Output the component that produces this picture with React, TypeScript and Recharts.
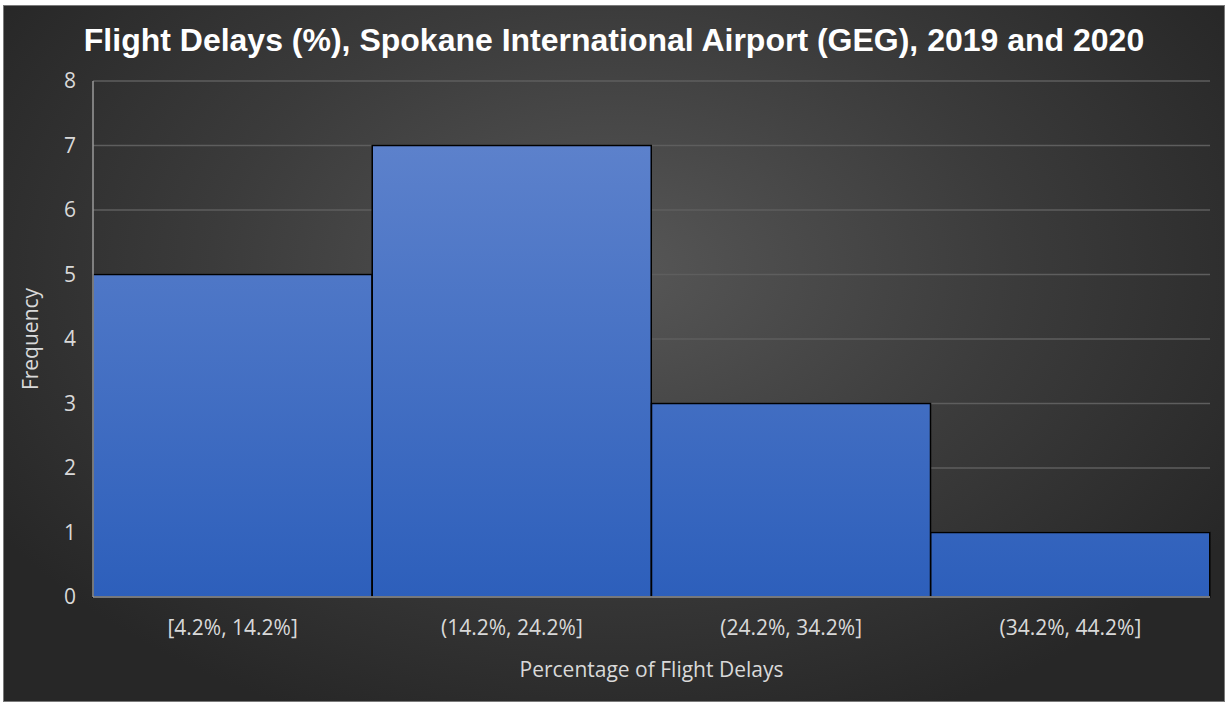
import React from 'react';
import { BarChart, Bar, XAxis, YAxis, CartesianGrid } from 'recharts';

// histogram bins and counts
const bins = ['[4.2%, 14.2%]', '(14.2%, 24.2%]', '(24.2%, 34.2%]', '(34.2%, 44.2%]'];
const frequency = [5, 7, 3, 1];
const yTicks = [0, 1, 2, 3, 4, 5, 6, 7, 8];

const data = bins.map((bin, i) => ({ bin, freq: frequency[i] }));

const font = '"Open Sans", sans-serif';
const tickFont = { fill: '#d9d9d9', fontSize: 21, fontFamily: font };

export default function App() {
  return (
    <div style={{ position: 'fixed', left: 0, top: 0, width: 1225, height: 702, background: '#fff', overflow: 'hidden' }}>
      {/* dark chart panel */}
      <div
        style={{
          position: 'absolute',
          left: 3,
          top: 5,
          width: 1222,
          height: 697,
          boxSizing: 'border-box',
          border: '1px solid #7a7a7a',
          background: 'radial-gradient(ellipse 60% 70% at 50% 38%, #575757 0%, #3b3b3b 55%, #272727 100%)',
        }}
      />
      <div
        style={{
          position: 'absolute',
          left: 3,
          top: 18,
          width: 1222,
          textAlign: 'center',
          color: '#ffffff',
          fontFamily: '"Liberation Sans", Arial, sans-serif',
          fontWeight: 'bold',
          fontSize: 32,
          lineHeight: '44px',
        }}
      >
        Flight Delays (%), Spokane International Airport (GEG), 2019 and 2020
      </div>
      <div style={{ position: 'absolute', left: 0, top: 0 }}>
        <BarChart
          width={1225}
          height={702}
          data={data}
          barCategoryGap={0}
          margin={{ top: 81, right: 15, bottom: 65, left: 43 }}
        >
          <defs>
            <linearGradient id="barGrad" gradientUnits="userSpaceOnUse" x1="0" y1="81" x2="0" y2="597">
              <stop offset="0%" stopColor="#6386ce" />
              <stop offset="100%" stopColor="#2d5fbb" />
            </linearGradient>
          </defs>
          <CartesianGrid vertical={false} stroke="#5e5e5e" strokeWidth={1.5} />
          <XAxis
            dataKey="bin"
            height={40}
            tickLine={false}
            tickSize={0}
            tickMargin={23}
            axisLine={{ stroke: '#9a9a9a', strokeWidth: 1.5 }}
            tick={tickFont}
            label={{
              value: 'Percentage of Flight Delays',
              position: 'bottom',
              offset: 25,
              fill: '#d9d9d9',
              fontSize: 21,
              fontFamily: font,
            }}
          />
          <YAxis
            width={50}
            domain={[0, 8]}
            ticks={yTicks}
            interval={0}
            tickLine={false}
            tickSize={0}
            tickMargin={17}
            axisLine={{ stroke: '#9a9a9a', strokeWidth: 1.5 }}
            tick={tickFont}
            label={{
              value: 'Frequency',
              angle: -90,
              position: 'insideLeft',
              offset: -12,
              fill: '#d9d9d9',
              fontSize: 21,
              fontFamily: font,
              style: { textAnchor: 'middle' },
            }}
          />
          <Bar dataKey="freq" fill="url(#barGrad)" stroke="#000000" strokeWidth={1.5} isAnimationActive={false} />
        </BarChart>
      </div>
    </div>
  );
}
